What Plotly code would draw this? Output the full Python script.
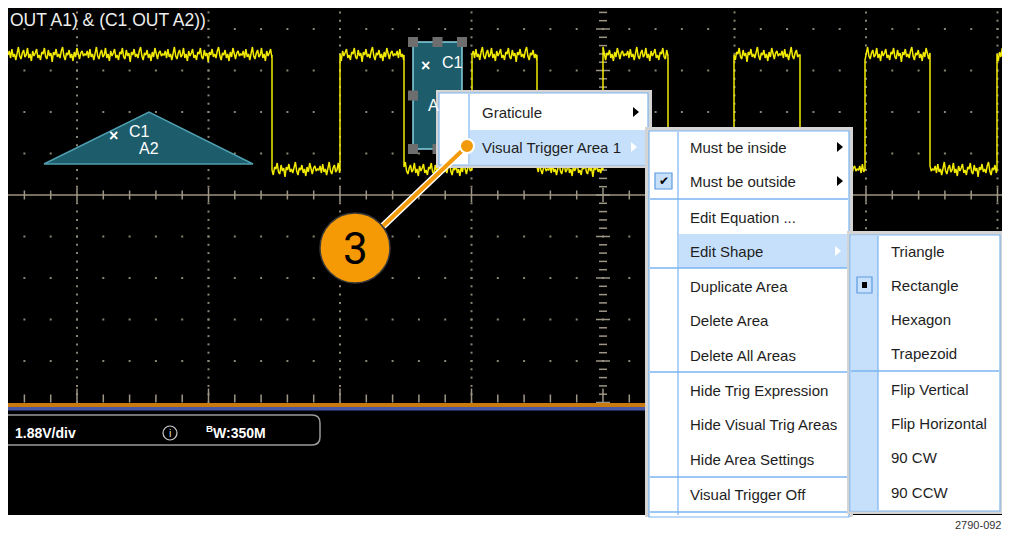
"""
오실로스코프 비주얼 트리거 메뉴 화면 재현
Plotly 도형/주석으로 화면 좌표(픽셀) 기준으로 그림
"""

import plotly.graph_objects as go

# 파형 데이터 (화면 좌표 기준)
EDGES = [272, 340, 404, 472, 537, 603, 668, 734, 800, 865, 930, 997]
HIGH_LEVEL = 55
LOW_LEVEL = 170
NOISE = [0, -4, 3, -6, 2, -1, 5, -3, -8, 1, 4, -2, -5, 2, 0, -7, 3, -1, 6, -4,
         1, -2, -6, 3, 0, 5, -3, -1, -7, 2, 4, -5, 1, -2, 7, -3, 0, -6, 2, -1,
         3, -4, -8, 1, 5, -2, 0, -5, 3, -1, 6, -3, 2, -7, 0, 4, -2, -4, 1, -1]

# 텍스트
TITLE_TEXT = "OUT A1) & (C1 OUT A2))"
SCALE_TEXT = "1.88V/div"
BW_TEXT = "<sup>B</sup>W:350M"
FIG_ID = "2790-092"
CALLOUT = "3"
MENU1_ITEMS = ["Graticule", "Visual Trigger Area 1"]
MENU2_ITEMS = ["Must be inside", "Must be outside", "Edit Equation ...", "Edit Shape",
               "Duplicate Area", "Delete Area", "Delete All Areas",
               "Hide Trig Expression", "Hide Visual Trig Areas", "Hide Area Settings",
               "Visual Trigger Off"]
MENU3_ITEMS = ["Triangle", "Rectangle", "Hexagon", "Trapezoid",
               "Flip Vertical", "Flip Horizontal", "90 CW", "90 CCW"]

# 트리거 영역 도형
TRIANGLE_X = [44, 149, 253]
TRIANGLE_Y = [164, 112, 164]
RECT_X = [413, 462]
RECT_Y = [42, 149]

# ---- 레이아웃 상수 ----
# 페이지 body 여백(8px) 때문에 그림은 (8, 8)부터 시작
PAGE_OFF = 8
W, H = 1009, 534
SX0, SY0, SX1, SY1 = 8, 4, 1006, 515   # 검은 화면 영역
CX, CY = 603, 195                       # 중심축
DX, DY = 131.5, 41.5                    # 눈금 간격
MX, MY = DX / 5, DY / 5

MENU1_ROWS = [112, 147]
MENU2_ROWS = [147, 181, 217, 251, 286, 320, 355, 390, 424, 459, 494]
MENU3_ROWS = [251, 285, 319, 353, 389, 423, 457, 492]

FONT = "Liberation Sans, Arial, sans-serif"
GRID = "#8a8474"
HILITE = "#c6e0fb"
BLUE = "#7ab4f0"
TEAL = "#1d5c6a"

shapes = []
annotations = []


def rect(x0, y0, x1, y1, fill=None, line=None, lw=1, layer="above"):
    shapes.append(dict(type="rect", xref="x", yref="y", x0=x0, y0=y0, x1=x1, y1=y1,
                       fillcolor=fill or "rgba(0,0,0,0)",
                       line=dict(color=line or "rgba(0,0,0,0)", width=lw if line else 0),
                       layer=layer))


def seg(x0, y0, x1, y1, color, lw=1, layer="above"):
    shapes.append(dict(type="line", xref="x", yref="y", x0=x0, y0=y0, x1=x1, y1=y1,
                       line=dict(color=color, width=lw), layer=layer))


def path(d, fill=None, line=None, lw=1, layer="above"):
    shapes.append(dict(type="path", xref="x", yref="y", path=d,
                       fillcolor=fill or "rgba(0,0,0,0)",
                       line=dict(color=line or "rgba(0,0,0,0)", width=lw if line else 0),
                       layer=layer))


def text(x, y, s, size=15, color="#1e1e1e", anchor="left", family=FONT):
    annotations.append(dict(x=x, y=y, xref="x", yref="y", text=s, showarrow=False,
                            xanchor=anchor, yanchor="middle",
                            font=dict(size=size, color=color, family=family)))


def arrow(x, y, color):
    path(f"M {x - 3},{y - 5} L {x + 3},{y} L {x - 3},{y + 5} Z", fill=color)


fig = go.Figure()

# 화면 배경
rect(SX0, SY0, SX1, SY1, fill="black", layer="below")

# 눈금 점 (주 눈금선)
dot_x, dot_y = [], []
k = -40
while True:
    y = CY + k * MY
    k += 1
    if y < SY0:
        continue
    if y > CY + 5 * DY:
        break
    for j in range(-4, 4):
        x = CX + j * DX
        if j != 0:
            dot_x.append(x)
            dot_y.append(y)
for r in range(-4, 5):
    y = CY + r * DY
    if r == 0:
        continue
    for j in range(-30, 20):
        x = CX + j * MX
        if SX0 < x < SX1:
            dot_x.append(x)
            dot_y.append(y)
fig.add_trace(go.Scatter(x=dot_x, y=dot_y, mode="markers",
                         marker=dict(size=2, color=GRID, symbol="square"),
                         hoverinfo="skip", showlegend=False))

# 중심 가로축 + 눈금
seg(SX0, CY, SX1, CY, "#766f60", 2, layer="below")
tx, ty = [], []
for j in range(-30, 20):
    x = CX + j * MX
    if SX0 < x < SX1:
        h = 7 if j % 5 == 0 else 4.5
        tx += [x, x, None]
        ty += [CY - h, CY + h, None]
        # 하단 축 눈금
        hb = 14 if j % 5 == 0 else 8
        tx += [x, x, None]
        ty += [CY + 5 * DY, CY + 5 * DY - hb, None]
# 중심 세로축 눈금
k = -40
while True:
    y = CY + k * MY
    if y > CY + 5 * DY:
        break
    if y > SY0:
        w = 7 if k % 5 == 0 else 4
        tx += [CX - w, CX + w, None]
        ty += [y, y, None]
    k += 1
fig.add_trace(go.Scatter(x=tx, y=ty, mode="lines", line=dict(color="#9d9684", width=1.5),
                         hoverinfo="skip", showlegend=False))

# 노란 파형
wx, wy = [], []
bounds = [SX0] + EDGES + [SX1]
n = 0
for i in range(len(bounds) - 1):
    level = HIGH_LEVEL if i % 2 == 0 else LOW_LEVEL
    x = bounds[i]
    while x <= bounds[i + 1]:
        wx.append(x)
        wy.append(level + NOISE[n % len(NOISE)])
        n += 1
        x += 1.3
    wx.append(bounds[i + 1])
    wy.append(level)
fig.add_trace(go.Scatter(x=wx, y=wy, mode="lines", line=dict(color="#f2ea00", width=1.5),
                         hoverinfo="skip", showlegend=False))

# 하단 채널 바
rect(SX0, 403, SX1, 407, fill="#c97a0e")
rect(SX0, 407, SX1, 410.5, fill="#4a58a6")

# 삼각형 트리거 영역
path(f"M {TRIANGLE_X[0]},{TRIANGLE_Y[0]} L {TRIANGLE_X[1]},{TRIANGLE_Y[1]} "
     f"L {TRIANGLE_X[2]},{TRIANGLE_Y[2]} Z", fill=TEAL, line="#4f9fb0", lw=1.5)
text(113, 135, "<b>×</b>", size=16, color="white", anchor="center")
text(127, 131, "C1", size=16, color="white")
text(137, 148, "A2", size=16, color="white")

# 사각형 트리거 영역 + 핸들
rect(RECT_X[0], RECT_Y[0], RECT_X[1], RECT_Y[1], fill=TEAL, line="#86d2e2", lw=1.5)
mid_x = (RECT_X[0] + RECT_X[1]) / 2
mid_y = (RECT_Y[0] + RECT_Y[1]) / 2
for hx, hy in [(RECT_X[0], RECT_Y[0]), (mid_x, RECT_Y[0]), (RECT_X[1], RECT_Y[0]),
               (RECT_X[0], mid_y), (RECT_X[0], RECT_Y[1]), (mid_x, RECT_Y[1])]:
    rect(hx - 5, hy - 5, hx + 5, hy + 5, fill="#6e6e6e")
text(425, 65, "<b>×</b>", size=16, color="white", anchor="center")
text(440, 62, "C1", size=16, color="white")
text(426, 105, "A", size=16, color="white")

# 상태 표시줄
path("M 8,415 H 312 Q 320,415 320,423 V 437 Q 320,445 312,445 H 8",
     fill="black", line="#9a9a9a", lw=1.5)
text(13, 433, f"<b>{SCALE_TEXT}</b>", size=14, color="white")
shapes.append(dict(type="circle", xref="x", yref="y", x0=163, y0=426, x1=177, y1=440,
                   line=dict(color="#cfcfcf", width=1.2), layer="above"))
text(170, 433, "i", size=11, color="#dcdcdc", anchor="center")
text(204, 432, f"<b>{BW_TEXT}</b>", size=14, color="white")

# ---- 메뉴 1 ----
rect(436, 90, 652, 168, fill="#d4d4d4")
rect(439, 93, 648, 165, fill="white", line=BLUE, lw=1.2)
seg(469, 94, 469, 164, BLUE, 1.2)
rect(470, 130, 647, 164, fill=HILITE)
arrow(636, MENU1_ROWS[0], "black")
arrow(634, MENU1_ROWS[1], "white")

# ---- 메뉴 2 ----
rect(645, 127, 853, 517, fill="#d4d4d4")
rect(649, 131, 849, 517, fill="white", line=BLUE, lw=1.2)
seg(678, 132, 678, 515, BLUE, 1.2)
rect(679, 234, 848, 268, fill=HILITE)
for sy in [199, 268, 372, 477, 512]:
    seg(650, sy, 848, sy, BLUE, 1.5)
arrow(840, MENU2_ROWS[0], "black")
arrow(840, MENU2_ROWS[1], "black")
arrow(838, MENU2_ROWS[3], "white")
rect(655, 173, 672, 189, fill=HILITE, line="#5c9be0", lw=1.2)
text(663.5, 181, "<b>✔</b>", size=12, color="black", anchor="center",
     family="DejaVu Sans")

# ---- 메뉴 3 ----
rect(847, 231, 1004, 514, fill="#d4d4d4")
rect(850, 235, 1000, 511, fill="white", line=BLUE, lw=1.2)
rect(851, 236, 878, 510, fill=HILITE)
seg(878, 236, 878, 510, BLUE, 1.2)
seg(851, 371, 999, 371, BLUE, 1.5)
rect(857, 277, 872, 293, fill=HILITE, line="#5c9be0", lw=1.2)
rect(862, 282, 867, 288, fill="black")

# 메뉴 텍스트
for s, y in zip(MENU1_ITEMS, MENU1_ROWS):
    text(480, y, s)
for s, y in zip(MENU2_ITEMS, MENU2_ROWS):
    text(688, y, s)
for s, y in zip(MENU3_ITEMS, MENU3_ROWS):
    text(889, y, s)

# ---- 콜아웃 (주황색 원) ----
seg(383, 226, 467, 146, "white", 7)
seg(383, 226, 467, 146, "#f39a0a", 4)
shapes.append(dict(type="circle", xref="x", yref="y", x0=460, y0=139, x1=474, y1=153,
                   fillcolor="#f39a0a", line=dict(color="white", width=2), layer="above"))
shapes.append(dict(type="circle", xref="x", yref="y", x0=320, y0=213, x1=390, y1=283,
                   fillcolor="#f59a05", line=dict(color="#3a3a3a", width=1.5), layer="above"))
text(355, 249, CALLOUT, size=44, color="black", anchor="center",
     family="Liberation Sans Narrow, Roboto, Liberation Sans")

# 화면 제목 / 그림 번호
text(8, 20, TITLE_TEXT, size=17.5, color="#eeeeee")
text(1004, 525, FIG_ID, size=11, color="#333333", anchor="right")

fig.update_layout(
    width=W - PAGE_OFF,
    height=H - PAGE_OFF,
    margin=dict(l=0, r=0, t=0, b=0),
    paper_bgcolor="white",
    plot_bgcolor="white",
    xaxis=dict(range=[PAGE_OFF, W], visible=False, fixedrange=True),
    yaxis=dict(range=[H, PAGE_OFF], visible=False, fixedrange=True),
    shapes=shapes,
    annotations=annotations,
    showlegend=False,
    font=dict(family=FONT),
)

fig.write_html("out.html")
